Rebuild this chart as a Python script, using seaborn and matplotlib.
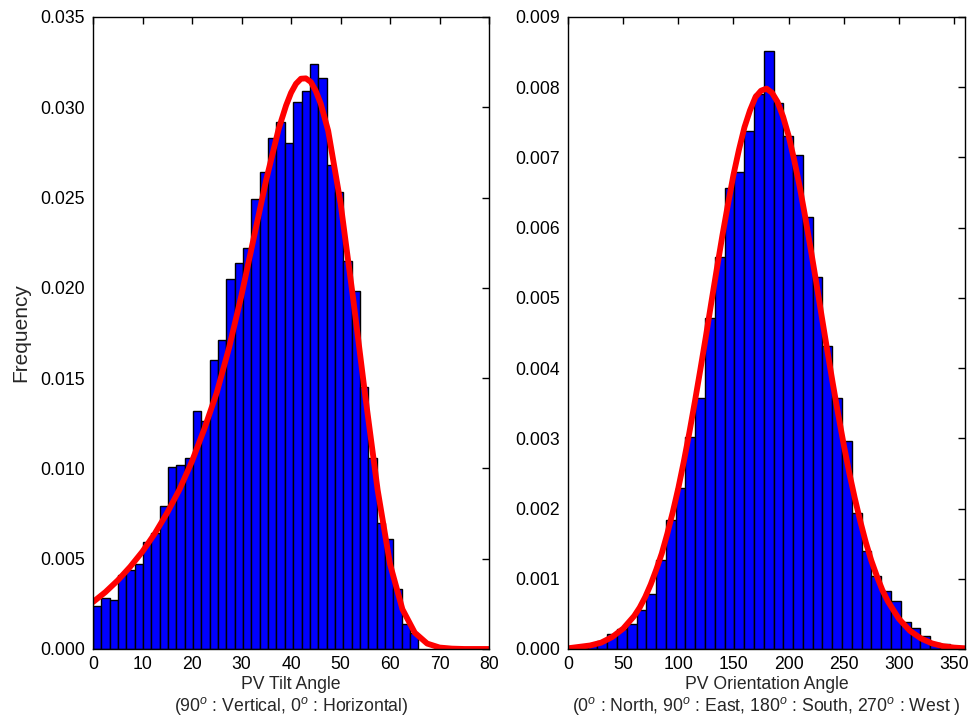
import numpy as np
import pandas as pd
import matplotlib
matplotlib.use("Agg")
import matplotlib.pyplot as plt
import seaborn as sns

# ---------------- data ----------------
tilt_edges_lo = 0.0
tilt_edges_hi = 65.7
tilt_heights = [0.0024, 0.0028, 0.0027, 0.0041, 0.0044, 0.0047, 0.0059, 0.0064,
                0.0079, 0.0101, 0.0102, 0.0106, 0.0132, 0.0126, 0.0160, 0.0171,
                0.0205, 0.0214, 0.0222, 0.0249, 0.0264, 0.0283, 0.0292, 0.0280,
                0.0303, 0.0309, 0.0324, 0.0316, 0.0268, 0.0253, 0.0215, 0.0198,
                0.0145, 0.0106, 0.0070, 0.0061, 0.0033, 0.0014, 0.0009]

tilt_curve_x = [0, 2.5, 5, 7.5, 10, 12.5, 15, 17.5, 20, 22.5, 25, 27.5, 30, 32.5,
                35, 37.5, 39, 40, 41, 42, 43, 44, 45, 46, 47.5, 50, 52.5, 55, 57.5,
                60, 62.5, 65, 67.5, 70, 72.5, 75, 80]
tilt_curve_y = [0.00260, 0.00315, 0.00380, 0.00455, 0.00540, 0.00640, 0.00755,
                0.00885, 0.01040, 0.01220, 0.01420, 0.01670, 0.01960, 0.02280,
                0.02600, 0.02880, 0.03010, 0.03080, 0.03130, 0.03158, 0.03160,
                0.03140, 0.03090, 0.03020, 0.02870, 0.02470, 0.01950, 0.01400,
                0.00880, 0.00470, 0.00220, 0.00090, 0.00030, 0.00008, 0.00002,
                0.0, 0.0]

orient_edges_lo = 0.0
orient_edges_hi = 355.0
orient_heights = [0.00001, 0.00003, 0.00006, 0.00012, 0.00022, 0.00028, 0.00035,
                  0.00055, 0.00079, 0.00127, 0.00184, 0.00229, 0.00302, 0.00358,
                  0.00471, 0.00558, 0.00656, 0.00679, 0.00738, 0.00790, 0.00851,
                  0.00778, 0.00731, 0.00703, 0.00615, 0.00530, 0.00432, 0.00358,
                  0.00296, 0.00194, 0.00140, 0.00104, 0.00083, 0.00068, 0.00039,
                  0.00030, 0.00018, 0.00008, 0.00007, 0.00003]

orient_curve_x = [0, 10, 20, 30, 40, 50, 60, 65, 70, 75, 80, 85, 90, 95, 100, 105,
                  110, 115, 120, 125, 130, 135, 140, 145, 150, 155, 160, 165, 170,
                  175, 180, 185, 190, 195, 200, 205, 210, 215, 220, 225, 230, 235,
                  240, 245, 250, 255, 260, 265, 270, 275, 280, 285, 290, 300, 310,
                  320, 330, 340, 350, 360]
orient_curve_y = [0.00001, 0.00003, 0.00005, 0.00009, 0.00017, 0.00029, 0.00047,
                  0.00059, 0.00074, 0.00092, 0.00113, 0.00136, 0.00164, 0.00195,
                  0.00229, 0.00267, 0.00308, 0.00352, 0.00398, 0.00445, 0.00494,
                  0.00542, 0.00589, 0.00633, 0.00675, 0.00711, 0.00743, 0.00767,
                  0.00786, 0.00795, 0.00798, 0.00792, 0.00779, 0.00758, 0.00731,
                  0.00697, 0.00659, 0.00616, 0.00570, 0.00523, 0.00474, 0.00426,
                  0.00379, 0.00334, 0.00291, 0.00251, 0.00215, 0.00182, 0.00152,
                  0.00126, 0.00104, 0.00084, 0.00068, 0.00043, 0.00026, 0.00015,
                  0.00008, 0.00004, 0.00002, 0.00001]

tilt_xticks = [0, 10, 20, 30, 40, 50, 60, 70, 80]
tilt_yticks = [0.000, 0.005, 0.010, 0.015, 0.020, 0.025, 0.030, 0.035]
orient_xticks = [0, 50, 100, 150, 200, 250, 300, 350]
orient_yticks = [0.000, 0.001, 0.002, 0.003, 0.004, 0.005, 0.006, 0.007, 0.008, 0.009]

tilt_xlabel = "PV Tilt Angle\n(90$^o$ : Vertical, 0$^o$ : Horizontal)"
orient_xlabel = "PV Orientation Angle\n(0$^o$ : North, 90$^o$ : East, 180$^o$ : South, 270$^o$ : West )"
ylabel = "Frequency"

# ---------------- style ----------------
sns.set_style("white")
plt.rcParams["font.family"] = ["Liberation Sans", "DejaVu Sans"]
plt.rcParams["mathtext.fontset"] = "custom"
plt.rcParams["mathtext.rm"] = "Liberation Sans"
plt.rcParams["mathtext.it"] = "Liberation Sans:italic"
plt.rcParams["axes.edgecolor"] = "black"

fig = plt.figure(figsize=(9.69, 7.16), dpi=100)
fig.patch.set_facecolor("white")
ax1 = fig.add_axes([0.096, 0.0936, 0.4087, 0.8827])
ax2 = fig.add_axes([0.5862, 0.0936, 0.4097, 0.8827])


def draw(ax, lo, hi, heights, cx, cy, xlim, ylim, xticks, yticks, xlabel):
    edges = np.linspace(lo, hi, len(heights) + 1)
    centers = (edges[:-1] + edges[1:]) / 2
    df = pd.DataFrame({"x": centers, "w": heights})
    sns.histplot(data=df, x="x", weights="w", bins=len(heights),
                 binrange=(lo, hi), stat="count",
                 color="#0000ff", edgecolor="black", linewidth=1.0,
                 alpha=1.0, ax=ax)
    cdf = pd.DataFrame({"x": cx, "y": cy})
    sns.lineplot(data=cdf, x="x", y="y", color="#ff0000", linewidth=4.2,
                 sort=False, ax=ax, solid_joinstyle="round",
                 solid_capstyle="round")
    ax.set_xlim(*xlim)
    ax.set_ylim(*ylim)
    ax.set_xticks(xticks)
    ax.set_yticks(yticks)
    ax.set_yticklabels([f"{v:.3f}" for v in yticks])
    ax.set_xticklabels([str(v) for v in xticks])
    ax.tick_params(direction="in", top=True, right=True, length=5, width=1,
                   labelsize=12.7, colors="black", pad=6)
    ax.tick_params(axis="x", pad=5)
    for s in ax.spines.values():
        s.set_visible(True)
        s.set_color("black")
        s.set_linewidth(1.0)
    ax.set_xlabel(xlabel, fontsize=12.7, linespacing=1.08, labelpad=2.5)
    ax.set_ylabel("")


draw(ax1, tilt_edges_lo, tilt_edges_hi, tilt_heights, tilt_curve_x, tilt_curve_y,
     (0, 80), (0, 0.035), tilt_xticks, tilt_yticks, tilt_xlabel)
draw(ax2, orient_edges_lo, orient_edges_hi, orient_heights, orient_curve_x,
     orient_curve_y, (0, 360), (0, 0.009), orient_xticks, orient_yticks,
     orient_xlabel)
ax1.set_ylabel(ylabel, fontsize=15, labelpad=7)

fig.savefig("out.png", dpi=100, facecolor="white")
